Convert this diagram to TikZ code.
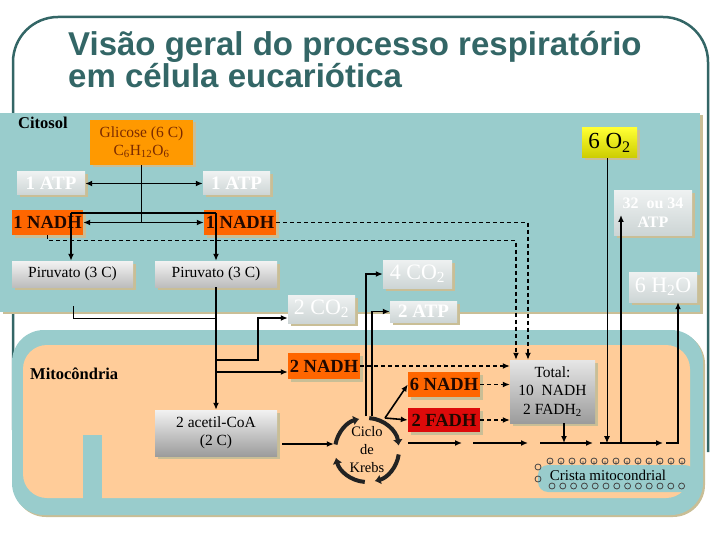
\documentclass[tikz,border=0pt]{standalone}
\usepackage{fontspec}
\setmainfont{Liberation Serif}
\newfontfamily\titlefont{Liberation Sans}
\usetikzlibrary{arrows.meta,shadows,calc}
\definecolor{tealc}{HTML}{99CCCC}
\definecolor{peach}{HTML}{FFCC99}
\definecolor{framec}{HTML}{336666}
\definecolor{shadc}{HTML}{C9BE96}
\definecolor{orangeg}{HTML}{FF9900}
\definecolor{nadhc}{HTML}{FF6600}
\definecolor{fadhc}{HTML}{DD0A0A}
\definecolor{glitext}{HTML}{7A2A00}
\definecolor{nadhtext}{HTML}{200800}
\definecolor{lighttop}{HTML}{EEF1F1}
\definecolor{lightbot}{HTML}{CDD5D5}
\definecolor{graytop}{HTML}{F2F2F2}
\definecolor{graybot}{HTML}{BDBDBD}
\definecolor{totaltop}{HTML}{E6E6E6}
\definecolor{totalbot}{HTML}{9C9C9C}
\definecolor{o2top}{HTML}{FFFF33}
\definecolor{o2bot}{HTML}{CCCC00}
\definecolor{krebsc}{HTML}{222222}
\definecolor{lipidc}{HTML}{444444}
\newcommand{\fsz}[2]{\fontsize{#1}{#2}\selectfont}
\begin{document}
\begin{tikzpicture}[x=1pt,y=-1pt,
  sz/.style 2 args={minimum width=#1pt,minimum height=#2pt},
  shd/.style={drop shadow={shadow xshift=2.5pt,shadow yshift=-2.5pt,fill=shadc,opacity=1}},
  boxbase/.style={shd,inner sep=1pt,align=center},
  lightbox/.style={boxbase,top color=lighttop,bottom color=lightbot,text=white,font=\bfseries\fsz{19}{21}},
  lightbig/.style={boxbase,top color=lighttop,bottom color=lightbot,text=white,font=\fsz{22}{24}},
  graybox/.style={boxbase,top color=graytop,bottom color=graybot,text=black,font=\fsz{15.5}{18.5}},
  nadhbox/.style={boxbase,fill=nadhc,text=nadhtext,font=\bfseries\fsz{18.5}{20}},
  fadhbox/.style={boxbase,fill=fadhc,text=nadhtext,font=\bfseries\fsz{18.5}{20}},
  mainline/.style={line width=1.6pt,draw=black},
  mainarrow/.style={mainline,-{Latex[length=7pt,width=6pt]}},
  dblarrow/.style={mainline,{Latex[length=7pt,width=6pt]}-{Latex[length=7pt,width=6pt]}},
  thinline/.style={line width=0.9pt,draw=black},
  thinarrow/.style={thinline,-{Latex[length=7pt,width=6pt]}},
  dasharrow/.style={line width=1.3pt,dash pattern=on 4pt off 3pt,-{Latex[length=7pt,width=6pt]}},
  krebsarc/.style={line width=4pt,draw=krebsc,-{Latex[length=6pt,width=10pt]}},
  lipid/.style={draw=lipidc,line width=0.8pt},
  labeltext/.style={text=black,font=\bfseries\fsz{16.5}{19},inner sep=0pt},
  titlestyle/.style={text=framec,font=\titlefont\bfseries\fsz{33}{36},inner sep=0pt}
]
\useasboundingbox (0,0) rectangle (720,540);
% outer frame
\draw[framec,line width=2.5pt,rounded corners=45pt] (13,430) -- (13,17) -- (708,17) -- (708,452);
% cytosol
\path[fill=tealc,drop shadow={shadow xshift=3pt,shadow yshift=-2pt,fill=shadc,opacity=1}] (0,113) rectangle (700,312);
% mitochondrion
\path[fill=tealc,rounded corners=32pt,drop shadow={shadow xshift=2pt,shadow yshift=-2pt,fill=shadc,opacity=1}] (12,330) rectangle (703,515);
\fill[peach,rounded corners=24pt] (23,345) rectangle (690,498);
\fill[tealc] (83,435) rectangle (102,500);
\fill[tealc,rounded corners=10pt] (538,465) rectangle (695,492);
\foreach \i in {0,...,12} \draw[lipid] (550+11*\i,461) circle[radius=3pt] -- ++(0,3.5);
\foreach \i in {0,...,12} \draw[lipid] (552+10.8*\i,486) circle[radius=3pt];
\draw[lipid] (538,467) circle[radius=3pt];
\draw[lipid] (538,479) circle[radius=3pt];
\node[font=\fsz{15}{17},inner sep=0pt] (crista) at (608,475) {Crista mitocondrial};

% title
\node[titlestyle,anchor=base west] (t1) at (68,56) {Visão geral do processo respiratório};
\node[titlestyle,anchor=base west] (t2) at (68,88) {em célula eucariótica};

% labels
\node[labeltext,anchor=base west] (cit) at (18,129) {Citosol};
\node[labeltext,anchor=base west] (mit) at (30,379) {Mitocôndria};

% boxes
\node[boxbase,fill=orangeg,text=glitext,sz={103}{45},font=\fsz{15.5}{18}] (glic) at (141.5,142.5) {Glicose (6 C)\\C\textsubscript{6}H\textsubscript{12}O\textsubscript{6}};
\node[lightbox,sz={68}{23}] (atpL) at (51,183.5) {1 ATP};
\node[lightbox,sz={67}{23}] (atpR) at (236.5,183.5) {1 ATP};
\node[nadhbox,sz={71}{25}] (nadhL) at (47.5,222.5) {1 NADH};
\node[nadhbox,sz={72}{25}] (nadhR) at (240,222.5) {1 NADH};
\node[graybox,sz={121}{26}] (pirL) at (72.5,274) {Piruvato (3 C)};
\node[graybox,sz={122}{26}] (pirR) at (216,274) {Piruvato (3 C)};
\node[lightbig,sz={67}{28}] (co2a) at (321.5,309) {2 CO\textsubscript{2}};
\node[lightbig,sz={69}{28}] (co2b) at (417.5,274) {4 CO\textsubscript{2}};
\node[lightbox,sz={67}{21}] (atp2) at (423.5,311.5) {2 ATP};
\node[nadhbox,sz={72}{26}] (nadh2) at (324,366) {2 NADH};
\node[nadhbox,sz={72}{25}] (nadh6) at (444,384.5) {6 NADH};
\node[fadhbox,sz={72}{24}] (fadh2) at (444,420) {2 FADH};
\node[graybox,top color=totaltop,bottom color=totalbot,sz={85}{63}] (total) at (552.5,391.5) {Total:\\10~ NADH\\2 FADH\textsubscript{2}};
\node[graybox,top color=graytop,bottom color=totalbot,sz={122}{46}] (acet) at (216,433) {2 acetil-CoA\\(2 C)};
\node[boxbase,top color=o2top,bottom color=o2bot,sz={55}{30},font=\fsz{23}{25}] (o2) at (609.5,143) {6 O\textsubscript{2}};
\node[lightbox,sz={78}{44},font=\bfseries\fsz{16}{19}] (atp32) at (653,213) {32~ ou 34\\ATP};
\node[lightbig,sz={68}{30}] (h2o) at (663,287) {6 H\textsubscript{2}O};
\node[circle,minimum size=66pt,inner sep=0pt,align=center,font=\fsz{14.5}{18}] (krebs) at (367,450) {Ciclo\\de\\Krebs};

% Krebs arcs
\draw[krebsarc] ($(krebs.center)+(86:32pt)$) arc[start angle=86,end angle=8,radius=32pt];
\draw[krebsarc] ($(krebs.center)+(-8:32pt)$) arc[start angle=-8,end angle=-76,radius=32pt];
\draw[krebsarc] ($(krebs.center)+(-94:32pt)$) arc[start angle=-94,end angle=-166,radius=32pt];
\draw[krebsarc] ($(krebs.center)+(170:32pt)$) arc[start angle=170,end angle=104,radius=32pt];

% helper coordinates
\coordinate (brL) at (71,213);
\coordinate (brR) at (216,213);
\coordinate (thinS) at (73,306);
\coordinate (thinE) at (216,318);
\coordinate (bCO) at (216,360);
\coordinate (kCO) at (258,360);
\coordinate (y318) at (0,318);
\coordinate (bNA) at (216,372);
\coordinate (kA) at (366,416);
\coordinate (kB) at (372,416);
\coordinate (kC) at (385,418);
\coordinate (acS) at (282,444);
\coordinate (x516) at (516,0);
\coordinate (x528) at (528,0);
\coordinate (x564) at (564,0);
\coordinate (x607) at (607,0);
\coordinate (y443) at (0,443);
\coordinate (a32S) at (621,443);
\coordinate (a32E) at (621,215);
\coordinate (h2oS) at (666,443);
\coordinate (h2oC) at (678,443);

% glycolysis connectors
\draw[mainline] (glic.south) -- (glic.south |- nadhL.east);
\draw[dblarrow] (atpL.east) -- (atpR.west);
\draw[dblarrow] (nadhL.east) -- (nadhR.west);
\draw[mainline] (brL) -- (brR);
\draw[mainarrow] (brL) -- (brL |- pirL.north);
\draw[mainarrow] (brR) -- (pirR.north);
\draw[thinline] (thinS) |- (thinE);
\draw[mainarrow] (pirR.south) -- (acet.north);
\draw[mainarrow] (bCO) -- (kCO) |- (co2a.west |- y318);
\draw[mainarrow] (bNA) -- (nadh2.west |- bNA);
\draw[mainarrow] (acS) -- (krebs.west |- acS);
% Krebs products
\draw[mainarrow] (kA) |- (co2b.west);
\draw[mainarrow] (kB) |- (atp2.west);
\draw[mainarrow] (kC) -- (nadh6.west);
\draw[mainarrow] (kC) -- (fadh2.west);
% NADH to total (dashed)
\draw[dasharrow] (nadhR.east) -| (total.north -| x528);
\draw[dasharrow] (nadhL.south) -- ++(0,5.5) -| (total.north -| x516);
\draw[dasharrow] (nadh2.east) -- (total.west |- nadh2.east);
\draw[dasharrow] (nadh6.east) -- (total.west |- nadh6.east);
\draw[dasharrow] (fadh2.east) -- (total.west |- fadh2.east);
% electron transport chain
\draw[mainarrow] (total.south -| x564) -- (x564 |- y443);
\draw[mainarrow] (408,443) -- (462,443);
\draw[mainarrow] (473,443) -- (528,443);
\draw[mainarrow] (540,443) -- (593,443);
\draw[mainarrow] (600,443) -- (663,443);
\draw[thinarrow] (o2.south -| x607) -- (x607 |- y443);
\draw[mainarrow] (a32S) -- (a32E);
\draw[mainarrow] (h2oS) -- (h2oC) -- (h2oC |- h2o.south);
\end{tikzpicture}
\end{document}
